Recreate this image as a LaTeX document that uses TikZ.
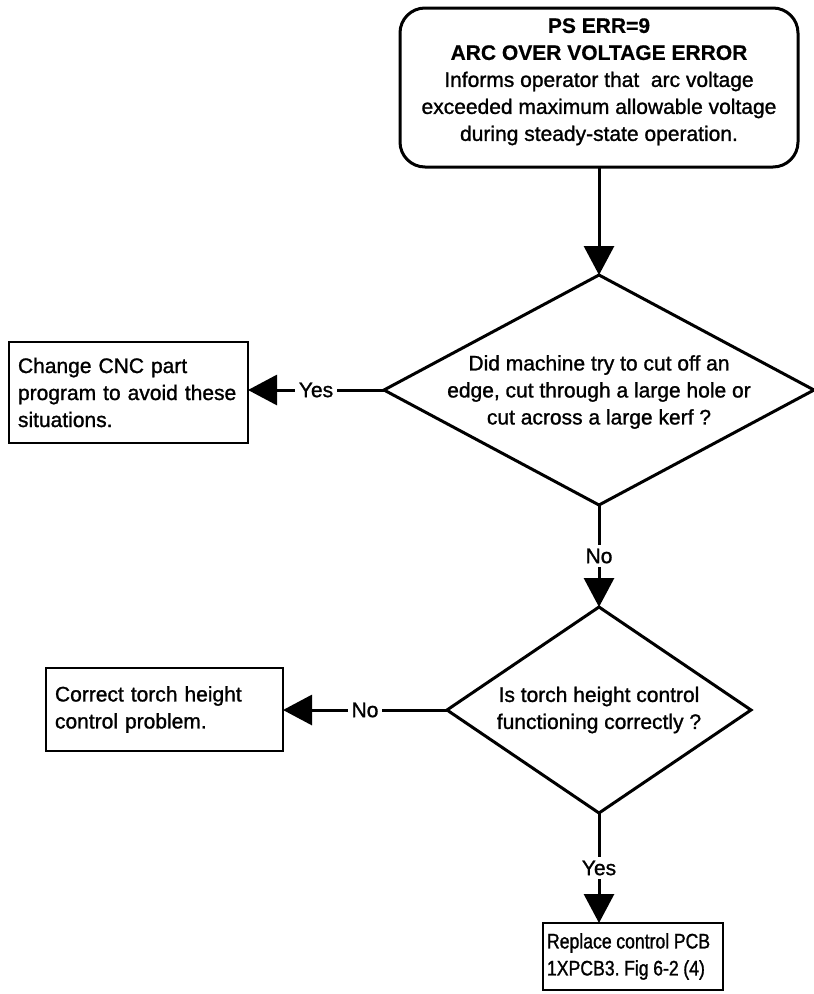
\documentclass[tikz,border=0pt]{standalone}
\usepackage{fontspec}
\setmainfont{Liberation Sans}[UprightFeatures={FakeBold=1.2},BoldFeatures={FakeBold=0.6}]
\usetikzlibrary{shapes.geometric,arrows.meta}
\frenchspacing
\begin{document}
\begin{tikzpicture}[x=1pt,y=-1pt,
  every node/.style={font=\fontsize{21}{27}\selectfont},
  arr/.style={line width=3pt,-{Triangle[length=29pt,width=30pt]}},
  termbox/.style={draw,line width=3pt,rounded corners=25pt,minimum width=398pt,minimum height=159pt,align=center,inner sep=0pt,outer sep=0pt},
  actbox/.style={draw,line width=2.5pt,inner ysep=0pt,outer sep=0pt,align=left},
  decbox/.style={draw,diamond,line width=3pt,inner sep=0pt,outer sep=0pt},
  dectext/.style={align=center,inner sep=0pt},
  lbl/.style={fill=white,inner sep=4pt}
]
\useasboundingbox (0,0) rectangle (814,994);

\node[termbox] (t) at (599,87.5) {\raisebox{6pt}[\height][\depth]{\begin{tabular}{@{}c@{}}\textbf{PS ERR=9}\\\textbf{ARC OVER VOLTAGE ERROR}\\Informs operator that\ \ arc voltage\\exceeded maximum allowable voltage\\during steady-state operation.\end{tabular}}};

\node[decbox,minimum width=430pt,minimum height=230pt] (d1) at (599,390) {};
\node[dectext] (d1t) at (599,392) {Did machine try to cut off an\\edge, cut through a large hole or\\cut across a large kerf ?};

\node[decbox,minimum width=304pt,minimum height=206pt] (d2) at (599,710) {};
\node[dectext] (d2t) at (599,710) {Is torch height control\\functioning correctly ?};

\node[actbox,inner xsep=9pt,text width=221pt,minimum height=101pt] (b1) at (128.5,392.5) {Change CNC part\\program to avoid these\\situations.};
\node[actbox,inner xsep=9pt,text width=219pt,minimum height=83pt] (b2) at (164.5,709.5) {Correct torch height\\control problem.};
\node[actbox,inner xsep=4pt,text width=172pt,minimum height=67pt,font=\fontsize{21}{27}\selectfont\addfontfeatures{FakeStretch=0.84}] (b3) at (633,956.5) {\frenchspacing\spaceskip=4.6pt plus 2pt minus 1pt\relax Replace control PCB\\1XPCB3. Fig 6-2 (4)};

\draw[arr] (t.south) -- (d1.north);
\draw[arr] (d1.west) -- node[lbl] {Yes} (d1.west -| b1.east);
\draw[arr] (d1.south) -- node[lbl] {No} (d2.north);
\draw[arr] (d2.west) -- node[lbl] {No} (d2.west -| b2.east);
\draw[arr] (d2.south) -- node[lbl] {Yes} (d2.south |- b3.north);
\end{tikzpicture}
\end{document}
